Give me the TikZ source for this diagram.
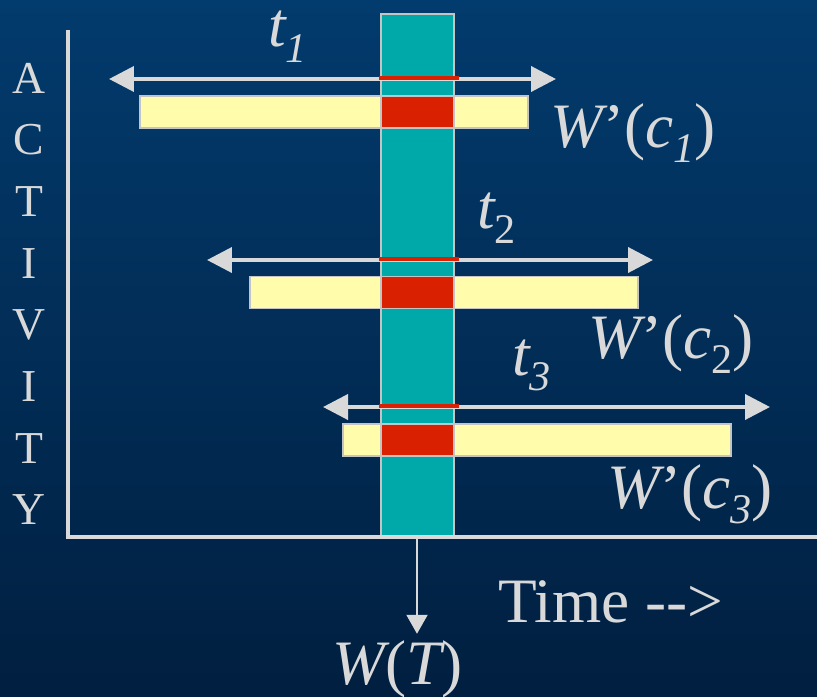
\documentclass[tikz,border=0pt]{standalone}
\usepackage{fontspec}
\setmainfont{Liberation Serif}
\usetikzlibrary{arrows.meta,positioning}
\definecolor{slidetop}{HTML}{023B6D}
\definecolor{slidebottom}{HTML}{011F40}
\definecolor{axisgray}{HTML}{D9D9D9}
\definecolor{edgegray}{HTML}{C4C4C4}
\definecolor{windowteal}{HTML}{00A9A9}
\definecolor{overlapred}{HTML}{D92000}
\definecolor{baryellow}{HTML}{FFFCAB}
\newcommand{\lowsub}[1]{\raisebox{-0.25em}{\fontsize{24}{24}\selectfont #1}}
\tikzset{
  actbar/.style={
    draw=edgegray,
    fill=baryellow,
    line width=0.9pt,
    minimum width=7.76cm,
    minimum height=0.64cm,
    inner sep=0pt
  },
  overlap/.style={
    draw=edgegray,
    fill=overlapred,
    line width=0.9pt,
    minimum width=1.46cm,
    minimum height=0.64cm,
    inner sep=0pt
  },
  timewindow/.style={
    draw=edgegray,
    fill=windowteal,
    line width=0.9pt,
    minimum width=1.46cm,
    minimum height=10.46cm,
    inner sep=0pt
  },
  spanarrow/.style={
    {Triangle[length=0.5cm,width=0.5cm]}-{Triangle[length=0.5cm,width=0.5cm]},
    line width=2.2pt,
    draw=axisgray
  },
  axisline/.style={
    draw=axisgray,
    line width=2.2pt
  },
  bigtext/.style={
    text=axisgray,
    font=\fontsize{36}{40}\selectfont,
    inner sep=0pt,
    anchor=base west
  },
  sidetext/.style={
    text=axisgray,
    font=\fontsize{26}{28}\selectfont,
    inner sep=0pt,
    anchor=base
  }
}

\begin{document}
\begin{tikzpicture}[x=0.02cm, y=-0.02cm]
    \shade[top color=slidetop, bottom color=slidebottom] (0,0) rectangle (817,696);
    \useasboundingbox (0,0) rectangle (817,696);
    % time window W(T)
    \node[timewindow] (win) at (417.5,275.5) {};
    % axes
    \draw[axisline] (68,30) -- (68,537) -- (817,537);
    \foreach \ch [count=\i from 0] in {A,C,T,I,V,I,T,Y}
      \node[sidetext] (act\i) at (29,{93+61.7*\i}) {\ch};
    % activity bars with overlap
    \node[actbar] (bar1) at (334,112) {};
    \node[actbar] (bar2) at (444,292.5) {};
    \node[actbar] (bar3) at (537,440) {};
    \node[overlap] (cut1) at (417.5,112) {};
    \node[overlap] (cut2) at (417.5,292.5) {};
    \node[overlap] (cut3) at (417.5,440) {};
    % spans t_i
    \coordinate (t1l) at (109,79);
    \coordinate (t1r) at (556,79);
    \coordinate (t2l) at (207,260);
    \coordinate (t2r) at (653,260);
    \coordinate (t3l) at (323,407);
    \coordinate (t3r) at (770,407);
    \foreach \k in {1,2,3}
      \draw[spanarrow] (t\k l) -- (t\k r);
    \foreach \yy in {78,259,406}
      \draw[overlapred, line width=2.2pt] (379,\yy) -- (459,\yy);
    % labels
    \node[bigtext] (lt1) at (268,47) {{\itshape t}\lowsub{\itshape 1}};
    \node[bigtext] (lt2) at (477,228) {{\itshape t}\lowsub{2}};
    \node[bigtext] (lt3) at (512,375) {{\itshape t}\lowsub{\itshape 3}};
    \node[bigtext] (lw1) at (550,147) {{\itshape W}’({\itshape c}\lowsub{\itshape 1})};
    \node[bigtext] (lw2) at (588,358) {{\itshape W}’({\itshape c}\lowsub{2})};
    \node[bigtext] (lw3) at (607,508) {{\itshape W}’({\itshape c}\lowsub{\itshape 3})};
    \node[bigtext] (time) at (498,622) {Time \mbox{-}\mbox{-}>};
    \node[bigtext] (wt) at (332,684) {{\itshape W}({\itshape T})};
    \coordinate (wfoot) at (417,539);
    \draw[-{Triangle[length=0.38cm,width=0.42cm]}, line width=1.2pt, axisgray, shorten >=0.12cm]
      (wfoot) -- (wfoot |- wt.north);
\end{tikzpicture}
\end{document}
